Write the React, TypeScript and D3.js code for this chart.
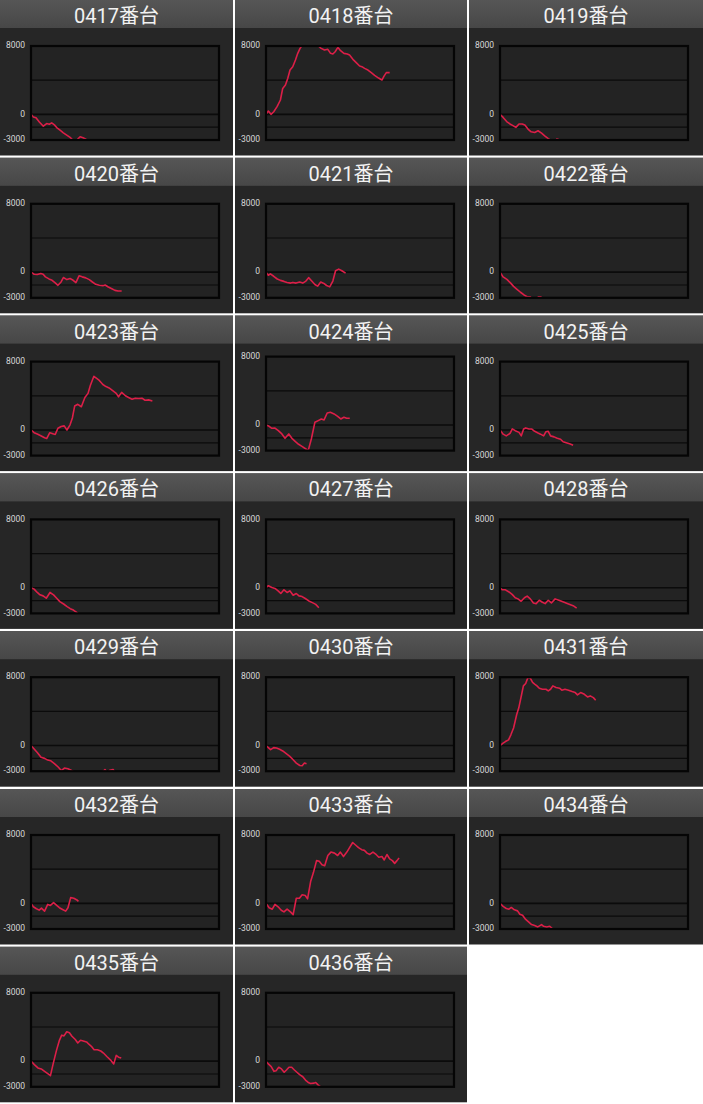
import React from "react";
import * as d3 from "d3";

// ---- data ----
const machines = [
  "0417", "0418", "0419", "0420", "0421", "0422", "0423", "0424", "0425", "0426",
  "0427", "0428", "0429", "0430", "0431", "0432", "0433", "0434", "0435", "0436",
];
const tickValues = [8000, 0, -3000];
const tickLabels = ["8000", "0", "-3000"];
const gridValues = [4000, 0, -1500];
const Y_MIN = -3000;
const Y_MAX = 8000;
const X_MAX = 9000; // games

type Pt = [number, number];

const s0417: Pt[] = [[0,0],[112,-310],[239,-385],[399,-885],[590,-1390],[750,-1080],[878,-1155],[990,-1000],[1120,-1230],[1230,-1540],[1390,-1850],[1550,-2160],[1710,-2430],[1870,-2700],[2000,-3000],[2110,-3300],[2230,-2930],[2350,-2620],[2490,-2730],[2650,-2930]];
const s0418: Pt[] = [[0,0],[112,390],[240,0],[370,310],[530,900],[690,1680],[800,3040],[930,3430],[1040,4200],[1150,5190],[1280,5580],[1410,6360],[1520,7140],[1630,7720],[1710,8000],[2000,8800],[2240,8900],[2400,8400],[2510,8000],[2640,7720],[2800,7530],[2960,7610],[3090,7140],[3200,7060],[3310,7330],[3440,7840],[3570,7450],[3730,7140],[3890,7060],[4000,6940],[4160,6440],[4320,6050],[4480,5660],[4590,5580],[4720,5380],[4880,5190],[5040,4880],[5200,4560],[5390,4250],[5550,4020],[5650,4480],[5760,4880],[5920,4880]];
const s0419: Pt[] = [[0,0],[150,-360],[320,-840],[475,-1120],[620,-1320],[760,-1520],[910,-1120],[1060,-1120],[1190,-1240],[1340,-1720],[1490,-2040],[1660,-2120],[1820,-1920],[1990,-2200],[2140,-2520],[2310,-2840],[2400,-3000],[2500,-3250],[2650,-3200],[2720,-2880],[2810,-2950]];
const s0420: Pt[] = [[0,0],[150,-240],[300,-280],[470,-160],[580,-240],[690,-550],[860,-790],[1010,-950],[1160,-1260],[1290,-1540],[1440,-1150],[1550,-630],[1720,-870],[1870,-750],[2020,-950],[2150,-1220],[2300,-430],[2450,-550],[2620,-670],[2790,-870],[2940,-1150],[3100,-1420],[3270,-1540],[3440,-1580],[3550,-1500],[3700,-1740],[3870,-1940],[4020,-2130],[4170,-2210],[4340,-2210]];
const s0421: Pt[] = [[0,0],[110,-360],[210,-200],[370,-480],[540,-800],[690,-960],[860,-1080],[1010,-1200],[1180,-1280],[1290,-1200],[1440,-1280],[1610,-1160],[1760,-1280],[1910,-1040],[2040,-640],[2190,-1040],[2340,-1440],[2470,-1640],[2620,-1160],[2770,-1320],[2900,-1560],[3050,-1720],[3200,-1040],[3330,160],[3480,360],[3630,160],[3810,-120]];
const s0422: Pt[] = [[0,0],[150,-560],[330,-850],[500,-1250],[650,-1660],[800,-1980],[980,-2350],[1150,-2670],[1300,-2880],[1450,-2880],[1580,-3300],[1740,-3300],[1840,-2880],[1990,-2880]];
const s0423: Pt[] = [[0,0],[150,-320],[300,-480],[470,-680],[650,-920],[750,-1000],[900,-320],[1080,-480],[1160,-520],[1290,200],[1440,400],[1590,480],[1720,0],[1870,600],[1980,1400],[2090,2800],[2240,3000],[2410,2720],[2580,3800],[2730,4280],[2840,5200],[3010,6280],[3160,6000],[3270,5800],[3440,5320],[3590,5080],[3740,4920],[3910,4600],[4080,4280],[4190,3880],[4340,4400],[4520,4000],[4670,3800],[4840,3600],[4990,3720],[5160,3680],[5310,3720],[5460,3480],[5630,3520],[5810,3400]];
const s0424: Pt[] = [[0,0],[150,-160],[280,-390],[430,-360],[590,-660],[760,-1050],[910,-1560],[1090,-1050],[1240,-1560],[1410,-1950],[1560,-2260],[1740,-2540],[1910,-2810],[2020,-3000],[2170,-1640],[2340,310],[2500,510],[2650,700],[2780,590],[2930,1400],[3080,1480],[3260,1290],[3430,1010],[3580,700],[3730,900],[3860,780],[4010,780]];
const s0425: Pt[] = [[0,0],[150,-490],[300,-690],[480,-400],[590,120],[730,-80],[910,-280],[1020,-690],[1130,120],[1230,240],[1390,120],[1510,120],[1660,-160],[1820,-360],[1940,-490],[2090,-690],[2200,-200],[2310,-160],[2420,-690],[2590,-810],[2740,-970],[2900,-1090],[3020,-1380],[3170,-1500],[3330,-1620],[3500,-1780]];
const s0426: Pt[] = [[0,0],[150,-160],[300,-550],[430,-830],[580,-950],[730,-1220],[910,-550],[1080,-830],[1230,-1220],[1380,-1620],[1560,-1900],[1730,-2210],[1880,-2450],[2030,-2610],[2200,-2920],[2250,-3050]];
const s0427: Pt[] = [[0,0],[110,240],[280,40],[430,-80],[580,-360],[710,-670],[860,-240],[1010,-550],[1140,-360],[1300,-870],[1450,-670],[1580,-950],[1730,-1030],[1880,-1260],[2050,-1540],[2220,-1740],[2380,-1940],[2530,-2330]];
const s0428: Pt[] = [[0,0],[110,-240],[260,-240],[430,-490],[580,-770],[730,-1170],[860,-1300],[1010,-1580],[1170,-1170],[1300,-970],[1450,-1300],[1600,-1780],[1730,-1860],[1880,-1460],[2030,-1700],[2160,-1860],[2310,-1460],[2460,-1780],[2640,-1300],[2850,-1500],[3070,-1700],[3280,-1900],[3500,-2100],[3670,-2390]];
const s0429: Pt[] = [[0,0],[150,-400],[300,-810],[480,-1380],[650,-1500],[800,-1700],[950,-1780],[1120,-2110],[1300,-2510],[1450,-2920],[1600,-2630],[1770,-2710],[1940,-2920],[2030,-3050],[2200,-3320],[2640,-3500],[3070,-3320],[3460,-3000],[3540,-2800],[3650,-3160],[3780,-2880],[3930,-2800],[4000,-3050]];
const s0430: Pt[] = [[0,0],[110,-240],[220,-470],[370,-240],[500,-280],[650,-430],[800,-630],[970,-950],[1140,-1260],[1300,-1660],[1450,-2050],[1620,-2330],[1730,-2370],[1840,-2050],[1940,-2130]];
const s0431: Pt[] = [[0,0],[150,280],[260,470],[410,670],[520,1260],[650,2050],[800,3630],[900,4420],[1020,5800],[1120,6990],[1230,7270],[1340,7980],[1450,7900],[1560,7390],[1660,7190],[1770,6990],[1880,6710],[2030,6590],[2200,6590],[2310,6400],[2420,6590],[2530,6990],[2680,6790],[2850,6710],[2960,6480],[3110,6590],[3280,6480],[3450,6320],[3600,6200],[3710,5930],[3860,6200],[4040,6000],[4190,5690],[4320,5810],[4470,5610],[4580,5290]];
const s0432: Pt[] = [[0,0],[110,-400],[260,-630],[390,-790],[500,-550],[650,-910],[800,-120],[930,-240],[1080,80],[1230,-240],[1360,-510],[1510,-710],[1660,-910],[1770,-510],[1900,670],[2050,590],[2200,400],[2270,240]];
const s0433: Pt[] = [[0,0],[150,-520],[300,-680],[430,-120],[580,-400],[730,-800],[860,-1000],[1010,-680],[1170,-1000],[1300,-1320],[1450,600],[1600,600],[1730,1000],[1880,920],[1990,520],[2140,2600],[2270,3600],[2420,5000],[2550,4920],[2680,4520],[2810,4400],[2960,5600],[3110,6000],[3280,5880],[3430,5600],[3560,6000],[3710,5480],[3870,6000],[4000,6520],[4150,7120],[4300,6800],[4430,6520],[4580,6280],[4710,6200],[4840,5880],[4970,5720],[5120,6000],[5270,5720],[5400,5400],[5550,5480],[5660,5080],[5790,5720],[5920,5200],[6050,5000],[6160,4680],[6270,5000],[6370,5320]];
const s0434: Pt[] = [[0,0],[150,-360],[300,-600],[430,-680],[540,-480],[690,-760],[840,-880],[950,-1280],[1080,-1400],[1230,-1880],[1380,-2200],[1510,-2480],[1660,-2600],[1810,-2760],[1990,-2480],[2090,-2680],[2240,-2760],[2380,-2680],[2530,-3000]];
const s0435: Pt[] = [[0,0],[160,-400],[330,-790],[490,-910],[650,-1190],[820,-1500],[930,-1700],[1060,-320],[1220,1260],[1350,2370],[1470,3040],[1580,2960],[1710,3440],[1840,3320],[1960,2920],[2120,2530],[2240,2130],[2370,2450],[2500,2370],[2660,2250],[2770,1980],[2890,1740],[3020,1340],[3180,1340],[3340,1190],[3470,950],[3630,550],[3800,160],[3960,-320],[4080,670],[4190,470],[4320,360]];
const s0436: Pt[] = [[0,0],[110,-320],[250,-630],[380,-1190],[490,-1110],[610,-710],[740,-910],[870,-1300],[980,-1030],[1100,-710],[1230,-710],[1360,-1030],[1480,-1300],[1610,-1580],[1760,-1820],[1890,-2210],[2020,-2490],[2130,-2610],[2300,-2570],[2380,-2490],[2490,-2770],[2620,-3000]];

const seriesList: Pt[][] = [
  s0417, s0418, s0419, s0420, s0421, s0422, s0423, s0424, s0425, s0426,
  s0427, s0428, s0429, s0430, s0431, s0432, s0433, s0434, s0435, s0436,
];

// ---- layout ----
const W = 703;
const H = 1104;
const COL_X = [0, 235, 469];
const COL_W = [233, 232, 234];
const ROW_PITCH = 157.8;
const PANEL_H = 155.5;
const HEADER_H = 28;
const PLOT = { left: 31, right: 219, top: 46, bottom: 140 };
const panelShiftY: Record<string, number> = { "0424": -5 };

const xScale = d3.scaleLinear().domain([0, X_MAX]).range([PLOT.left, PLOT.right]);
const yScale = d3.scaleLinear().domain([Y_MIN, Y_MAX]).range([PLOT.bottom, PLOT.top]);
const lineGen = d3
  .line<Pt>()
  .x((d) => xScale(d[0]))
  .y((d) => yScale(d[1]))
  .curve(d3.curveLinear);

function Panel({ idx }: { idx: number }) {
  const name = machines[idx];
  const col = idx % 3;
  const row = Math.floor(idx / 3);
  const px = COL_X[col];
  const py = row * ROW_PITCH;
  const w = COL_W[col];
  const dy = panelShiftY[name] || 0;
  const clipId = `clip-${name}`;
  return (
    <g transform={`translate(${px},${py})`}>
      <rect x={0} y={0} width={w} height={PANEL_H} fill="#262626" />
      <rect x={0} y={0} width={w} height={HEADER_H} fill="url(#hdr)" />
      <text
        x={w / 2}
        y={23}
        textAnchor="middle"
        fontSize={20}
        fill="#f2f2f2"
        fontFamily="Roboto, 'Noto Sans CJK JP', sans-serif"
      >
        {name}番台
      </text>
      <g transform={`translate(0,${dy})`}>
        <defs>
          <clipPath id={clipId}>
            <rect
              x={PLOT.left}
              y={PLOT.top}
              width={PLOT.right - PLOT.left}
              height={PLOT.bottom - PLOT.top}
            />
          </clipPath>
        </defs>
        <rect
          x={PLOT.left}
          y={PLOT.top}
          width={PLOT.right - PLOT.left}
          height={PLOT.bottom - PLOT.top}
          fill="#232323"
        />
        {gridValues.map((v) => (
          <line
            key={v}
            x1={PLOT.left}
            x2={PLOT.right}
            y1={yScale(v)}
            y2={yScale(v)}
            stroke="#0b0b0b"
            strokeWidth={v === 0 ? 1.6 : 1.2}
          />
        ))}
        <path
          d={lineGen(seriesList[idx]) || ""}
          fill="none"
          stroke="#dc1f48"
          strokeWidth={1.6}
          strokeLinejoin="round"
          clipPath={`url(#${clipId})`}
        />
        <rect
          x={PLOT.left}
          y={PLOT.top}
          width={PLOT.right - PLOT.left}
          height={PLOT.bottom - PLOT.top}
          fill="none"
          stroke="#050505"
          strokeWidth={2.2}
        />
        {tickValues.map((v, i) => (
          <text
            key={v}
            x={PLOT.left - 6}
            y={yScale(v)}
            textAnchor="end"
            dominantBaseline="middle"
            fontSize={8.5}
            fill="#d8d8d8"
            fontFamily="Roboto, sans-serif"
          >
            {tickLabels[i]}
          </text>
        ))}
      </g>
    </g>
  );
}

export default function App() {
  return (
    <>
      <style>{`body{margin:0;background:#fff}`}</style>
      <svg width={W} height={H} style={{ display: "block" }}>
        <defs>
          <linearGradient id="hdr" x1="0" y1="0" x2="0" y2="1">
            <stop offset="0" stopColor="#565656" />
            <stop offset="1" stopColor="#474747" />
          </linearGradient>
        </defs>
        <rect x={0} y={0} width={W} height={H} fill="#ffffff" />
        {machines.map((m, i) => (
          <Panel key={m} idx={i} />
        ))}
      </svg>
    </>
  );
}
